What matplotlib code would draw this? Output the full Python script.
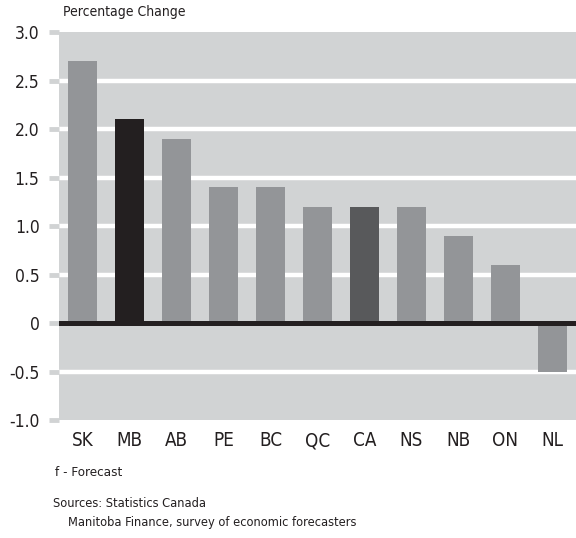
import matplotlib
matplotlib.use("Agg")
import matplotlib.pyplot as plt

plt.rcParams['font.family'] = ['DejaVu Sans']
plt.rcParams['font.stretch'] = 'condensed'

provinces = ["SK", "MB", "AB", "PE", "BC", "QC", "CA", "NS", "NB", "ON", "NL"]
change = [2.7, 2.1, 1.9, 1.4, 1.4, 1.2, 1.2, 1.2, 0.9, 0.6, -0.5]
yticks = [-1.0, -0.5, 0, 0.5, 1.0, 1.5, 2.0, 2.5, 3.0]
ytick_labels = ["-1.0", "-0.5", "0", "0.5", "1.0", "1.5", "2.0", "2.5", "3.0"]

bg = "#d1d3d4"
colors = []
for p in provinces:
    if p == "MB":
        colors.append("#231f20")
    elif p == "CA":
        colors.append("#58595b")
    else:
        colors.append("#939598")

fig = plt.figure(figsize=(5.76, 5.38), dpi=100)
ax = fig.add_axes([0.1024, 0.2193, 0.8976, 0.7212])
ax.set_facecolor(bg)

ax.bar(range(len(provinces)), change, width=0.62, color=colors, zorder=3)
ax.axhline(0, color="#231f20", linewidth=3.6, zorder=4)

ax.set_xlim(-0.5, len(provinces) - 0.5)
ax.set_ylim(-1.0, 3.0)
ax.set_yticks(yticks)
ax.set_yticklabels(ytick_labels)
ax.set_xticks(range(len(provinces)))
ax.set_xticklabels(provinces)

# white grid lines, hidden under the bars
for y in yticks:
    if y not in (-1.0, 0, 3.0):
        ax.axhline(y, color="white", linewidth=3.2, zorder=1)

for s in ax.spines.values():
    s.set_visible(False)

ax.tick_params(axis="y", length=7, width=3.5, color=bg, labelsize=12.5,
               labelcolor="#231f20", pad=7)
ax.tick_params(axis="x", length=0, labelsize=13.5, labelcolor="#231f20", pad=8)

fig.text(0.109, 0.977, "Percentage Change", fontsize=10, color="#231f20", va="center")
fig.text(0.096, 0.121, "f - Forecast", fontsize=9.6, color="#231f20", va="center")
fig.text(0.092, 0.065, "Sources: Statistics Canada", fontsize=9.2, color="#231f20", va="center")
fig.text(0.118, 0.028, "Manitoba Finance, survey of economic forecasters", fontsize=9.2,
         color="#231f20", va="center")

fig.savefig("out.png", dpi=100)
